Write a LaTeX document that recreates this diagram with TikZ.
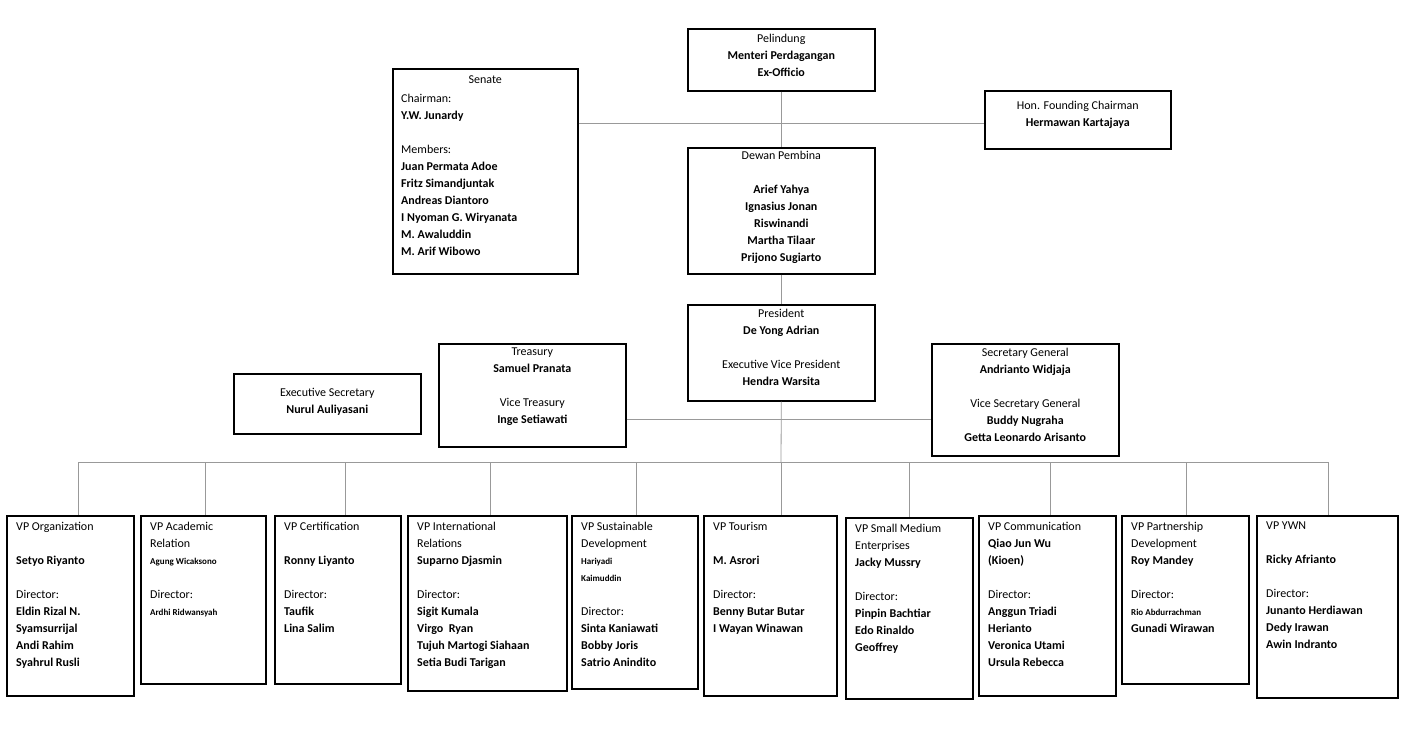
\documentclass[tikz,border=0pt]{standalone}
\usepackage{fontspec}
\setmainfont{Carlito}
\begin{document}
\begin{tikzpicture}[x=1pt,y=-1pt,
  bx/.style={draw,line width=1.6pt,anchor=north west,inner sep=0pt},
  ct/.style={anchor=north,align=center,font=\fontsize{12}{17}\selectfont,inner sep=0pt},
  lt/.style={anchor=north west,align=left,font=\fontsize{12}{17}\selectfont,inner sep=0pt},
  ln/.style={draw=gray!80,line width=0.8pt}]
\useasboundingbox (0,0) rectangle (1413,743);
\newcommand{\bbox}[5]{\node[bx,minimum width=#4-#2,minimum height=#5-#3] (#1) at (#2,#3) {};}
\bbox{pel}{687}{28}{874}{90}
\bbox{sen}{392}{68}{577}{273}
\bbox{hon}{984}{90}{1170}{148}
\bbox{dew}{687}{147}{874}{273}
\bbox{pres}{687}{304}{874}{400}
\bbox{tre}{438}{343}{625}{446}
\bbox{exs}{233}{373}{420}{433}
\bbox{sec}{931}{343}{1118}{455}
\bbox{b1}{6}{515}{133}{695}
\bbox{b2}{140}{515}{265}{683}
\bbox{b3}{274}{515}{400}{683}
\bbox{b4}{407}{515}{566}{690}
\bbox{b5}{571}{515}{697}{688}
\bbox{b6}{703}{515}{836}{695}
\bbox{b7}{845}{517}{972}{698}
\bbox{b8}{978}{515}{1115}{695}
\bbox{b9}{1121}{515}{1248}{683}
\bbox{b10}{1256}{515}{1397}{697}
% texts
\node[ct] (tpel) at ([yshift=-6]pel.north) {Pelindung\\\bfseries Menteri Perdagangan\\\bfseries Ex-Officio};
\node[ct] (tsen) at ([yshift=-8]sen.north) {Senate};
\node[lt] (tsen2) at (401,94) {Chairman:\\\textbf{Y.W. Junardy}\\[17pt]Members:\\\textbf{Juan Permata Adoe}\\\textbf{Fritz Simandjuntak}\\\textbf{Andreas Diantoro}\\\textbf{I Nyoman G. Wiryanata}\\\textbf{M. Awaluddin}\\\textbf{M. Arif Wibowo}};
\node[ct] (thon) at ([yshift=-11]hon.north) {Hon. Founding Chairman\\\bfseries Hermawan Kartajaya};
\node[ct] (tdew) at ([yshift=-4]dew.north) {Dewan Pembina\\[17pt]\bfseries Arief Yahya\\\bfseries Ignasius Jonan\\\bfseries Riswinandi\\\bfseries Martha Tilaar\\\bfseries Prijono Sugiarto};
\node[ct] (tpres) at ([yshift=-5]pres.north) {President\\\bfseries De Yong Adrian\\[17pt]Executive Vice President\\\bfseries Hendra Warsita};
\node[ct] (ttre) at ([yshift=-5]tre.north) {Treasury\\\bfseries Samuel Pranata\\[17pt]Vice Treasury\\\bfseries Inge Setiawati};
\node[ct] (texs) at ([yshift=-15]exs.north) {Executive Secretary\\\bfseries Nurul Auliyasani};
\node[ct] (tsec) at ([yshift=-5]sec.north) {Secretary General\\\bfseries Andrianto Widjaja\\[17pt]Vice Secretary General\\\bfseries Buddy Nugraha\\\bfseries Getta Leonardo Arisanto};
\node[lt] (t1) at ([shift={(10,7)}]b1.north west) {VP Organization\\[17pt]\textbf{Setyo Riyanto}\\[17pt]Director:\\\textbf{Eldin Rizal N.}\\\textbf{Syamsurrijal}\\\textbf{Andi Rahim}\\\textbf{Syahrul Rusli}};
\node[lt] (t2) at ([shift={(10,7)}]b2.north west) {VP Academic\\Relation\\{\small\bfseries Agung Wicaksono}\\[17pt]Director:\\{\small\bfseries Ardhi Ridwansyah}};
\node[lt] (t3) at ([shift={(10,7)}]b3.north west) {VP Certification\\[17pt]\textbf{Ronny Liyanto}\\[17pt]Director:\\\textbf{Taufik}\\\textbf{Lina Salim}};
\node[lt] (t4) at ([shift={(10,7)}]b4.north west) {VP International\\Relations\\\textbf{Suparno Djasmin}\\[17pt]Director:\\\textbf{Sigit Kumala}\\\textbf{Virgo\ \ Ryan}\\\textbf{Tujuh Martogi Siahaan}\\\textbf{Setia Budi Tarigan}};
\node[lt] (t5) at ([shift={(10,7)}]b5.north west) {VP Sustainable\\Development\\{\small\bfseries Hariyadi}\\{\small\bfseries Kaimuddin}\\[17pt]Director:\\\textbf{Sinta Kaniawati}\\\textbf{Bobby Joris}\\\textbf{Satrio Anindito}};
\node[lt] (t6) at ([shift={(10,7)}]b6.north west) {VP Tourism\\[17pt]\textbf{M. Asrori}\\[17pt]Director:\\\textbf{Benny Butar Butar}\\\textbf{I Wayan Winawan}};
\node[lt] (t7) at ([shift={(10,7)}]b7.north west) {VP Small Medium\\Enterprises\\\textbf{Jacky Mussry}\\[17pt]Director:\\\textbf{Pinpin Bachtiar}\\\textbf{Edo Rinaldo}\\\textbf{Geoffrey}};
\node[lt] (t8) at ([shift={(10,7)}]b8.north west) {VP Communication\\\textbf{Qiao Jun Wu}\\\textbf{(Kioen)}\\[17pt]Director:\\\textbf{Anggun Triadi}\\\textbf{Herianto}\\\textbf{Veronica Utami}\\\textbf{Ursula Rebecca}};
\node[lt] (t9) at ([shift={(10,7)}]b9.north west) {VP Partnership\\Development\\\textbf{Roy Mandey}\\[17pt]Director:\\{\small\bfseries Rio Abdurrachman}\\\textbf{Gunadi Wirawan}};
\node[lt] (t10) at ([shift={(10,7)}]b10.north west) {VP YWN\\[17pt]\textbf{Ricky Afrianto}\\[17pt]Director:\\\textbf{Junanto Herdiawan}\\\textbf{Dedy Irawan}\\\textbf{Awin Indranto}};
% connectors
\coordinate (busL) at (78,462);
\coordinate (busR) at (1328,462);
\coordinate (mid) at (781,462);
\coordinate (tj) at (781,419);
\draw[ln] (pel.south) -- (dew.north);
\draw[ln] (sen.east |- 0,123) -- (hon.west |- 0,123);
\draw[ln] (dew.south) -- (pres.north);
\draw[ln] (pres.south) -- (mid);
\draw[ln] (tre.east |- tj) -- (sec.west |- tj);
\draw[ln] (busL) -- (busR);
\foreach \b/\x in {b1/78,b2/205,b3/345,b4/490,b5/636,b6/781,b7/909,b8/1050,b9/1186,b10/1328}
  \draw[ln] (\x,462) -- (\b.north -| \x,0);
\end{tikzpicture}
\end{document}
